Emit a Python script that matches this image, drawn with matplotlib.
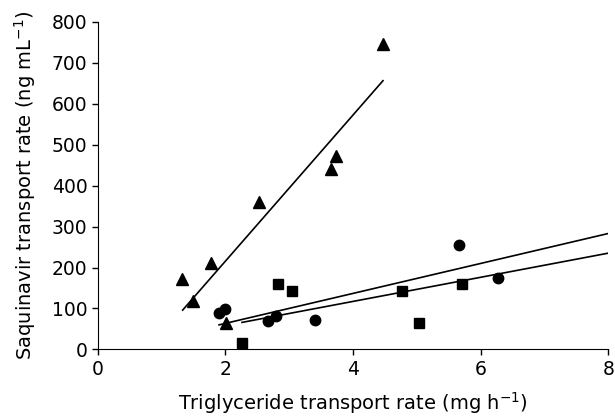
import matplotlib
matplotlib.use("Agg")
import matplotlib.pyplot as plt
import numpy as np

plt.rcParams['font.family'] = ['DejaVu Sans']
plt.rcParams['mathtext.default'] = 'regular'

# data
tri_x = [1.32, 1.50, 1.77, 2.01, 2.52, 3.66, 3.73, 4.47]
tri_y = [172, 118, 210, 65, 361, 440, 473, 746]
circ_x = [1.90, 2.00, 2.66, 2.79, 3.41, 5.66, 6.27]
circ_y = [88, 98, 70, 82, 73, 255, 175]
sq_x = [2.26, 2.83, 3.05, 4.77, 5.04, 5.71]
sq_y = [15, 160, 142, 142, 64, 159]

# fitted lines (endpoints as drawn)
tri_line_x = [1.33, 4.47]
tri_line_y = [96, 656]
circ_line_x = [1.90, 8.0]
circ_line_y = [60, 283]
sq_line_x = [2.26, 8.0]
sq_line_y = [66, 235]

fig = plt.figure(figsize=(6.15, 4.17), dpi=100)
ax = fig.add_axes([0.159, 0.162, 0.830, 0.786])

ax.plot(tri_line_x, tri_line_y, color='black', lw=1.2)
ax.plot(circ_line_x, circ_line_y, color='black', lw=1.2)
ax.plot(sq_line_x, sq_line_y, color='black', lw=1.2)

ax.plot(tri_x, tri_y, ls='none', marker='^', ms=8, color='black', clip_on=False)
ax.plot(circ_x, circ_y, ls='none', marker='o', ms=7.5, color='black', clip_on=False)
ax.plot(sq_x, sq_y, ls='none', marker='s', ms=7, color='black', clip_on=False)

ax.set_xlim(0, 8)
ax.set_ylim(0, 800)
ax.set_xticks([0, 2, 4, 6, 8])
ax.set_yticks(np.arange(0, 801, 100))
ax.spines['top'].set_visible(False)
ax.spines['right'].set_visible(False)
ax.tick_params(direction='out', length=4, width=1, labelsize=13.5)

ax.set_xlabel('Triglyceride transport rate (mg h$^{-1}$)', fontsize=14, labelpad=8)
ax.set_ylabel('Saquinavir transport rate (ng mL$^{-1}$)', fontsize=14, labelpad=10)

fig.savefig('out.png', dpi=100)
